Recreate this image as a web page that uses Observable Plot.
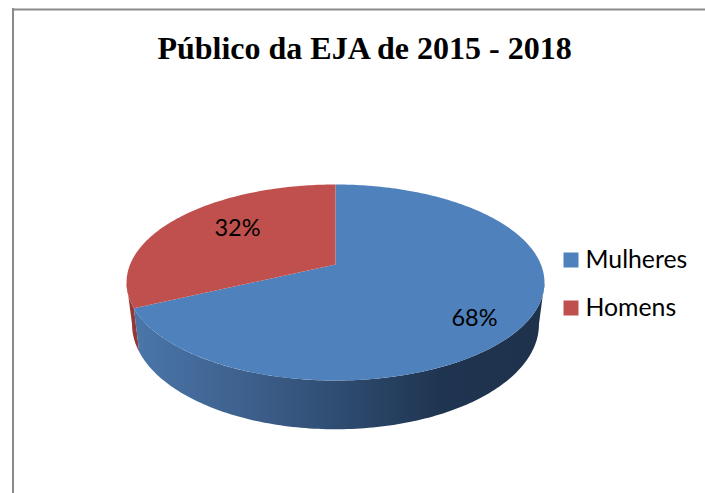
<!DOCTYPE html>
<html><head><meta charset="utf-8">
<script src="https://cdn.jsdelivr.net/npm/d3@7"></script>
<script src="https://cdn.jsdelivr.net/npm/@observablehq/plot@0.6"></script>
<style>html,body{margin:0;padding:0;background:#fff}svg{display:block}</style>
</head><body><div id="chart"></div>
<script>
const titleText = "Público da EJA de 2015 - 2018";
const categories = ["Mulheres", "Homens"];
const shares = [68, 32];
const topColors = ["#4f81bd", "#c0504d"];

const W = 705, H = 493;
// perspective projection of the pie disc onto the page
const cx = 335, c = 0.1837, A = 205.4, a = -46.2, b = 264;
const Ab = 200, ab = -45.5, bb = 304.5;
const project = (t, r, Aw, aw, bw) => {
  const u = r * Math.sin(t), v = r * Math.cos(t), d = 1 + c * v;
  return [cx + Aw * u / d, (aw * v + bw) / d];
};
const pie = d3.pie().sort(null).value(d => d)(shares);
const step = Math.PI / 180;
// the wall is visible only between the two points where the rim is widest
const frontStart = Math.acos(-c), frontEnd = 2 * Math.PI - frontStart;

const topFaces = [], sideFaces = [];
pie.forEach((s, i) => {
  const name = categories[i];
  const n = Math.ceil((s.endAngle - s.startAngle) / step);
  const [x0, y0] = project(0, 0, A, a, b);
  topFaces.push({name, x: x0, y: y0});
  for (let k = 0; k <= n; k++) {
    const [x, y] = project(s.startAngle + (s.endAngle - s.startAngle) * k / n, 1, A, a, b);
    topFaces.push({name, x, y});
  }
  const t0 = Math.max(s.startAngle, frontStart), t1 = Math.min(s.endAngle, frontEnd);
  if (t1 > t0) {
    const m = Math.ceil((t1 - t0) / step);
    for (let k = 0; k <= m; k++) {
      const [x, y] = project(t0 + (t1 - t0) * k / m, 1, A, a, b);
      sideFaces.push({name, x, y});
    }
    for (let k = m; k >= 0; k--) {
      const [x, y] = project(t0 + (t1 - t0) * k / m, 1, Ab, ab, bb);
      sideFaces.push({name, x, y});
    }
  }
});
const sideBlue = sideFaces.filter(d => d.name === "Mulheres");
const sideRed = sideFaces.filter(d => d.name === "Homens");

const gradStops = [[135, "#4a76aa"], [250, "#3d5f8b"], [335, "#2f4d72"], [440, "#1f3450"], [540, "#1e324c"]];
const defs = () => {
  const d = d3.create("svg:defs");
  const g = d.append("linearGradient").attr("id", "sideBlue")
    .attr("gradientUnits", "userSpaceOnUse")
    .attr("x1", gradStops[0][0]).attr("x2", gradStops[gradStops.length - 1][0])
    .attr("y1", 0).attr("y2", 0);
  gradStops.forEach(([x, col]) => g.append("stop")
    .attr("offset", (x - gradStops[0][0]) / (gradStops[gradStops.length - 1][0] - gradStops[0][0]))
    .attr("stop-color", col));
  return d.node();
};

const legendRows = categories.map((name, i) => ({name, x: 570.5, y: 259.5 + i * 48}));
const labelRows = shares.map((v, i) => ({text: v + "%", x: [474, 237][i], y: [318, 228][i]}));
const font = "Lato, 'Open Sans', sans-serif";

const chart = Plot.plot({
  width: W, height: H, margin: 0,
  x: {domain: [0, W], range: [0, W], axis: null},
  y: {domain: [0, H], range: [0, H], axis: null},
  color: {domain: categories, range: topColors},
  style: {background: "#fff"},
  marks: [
    defs,
    Plot.ruleX([12.5], {y1: 8, y2: H, stroke: "#8a8a8a", strokeWidth: 2}),
    Plot.ruleY([9], {x1: 12, x2: W, stroke: "#8a8a8a", strokeWidth: 2}),
    Plot.line(sideRed, {x: "x", y: "y", fill: "#953735", stroke: null}),
    Plot.line(sideBlue, {x: "x", y: "y", fill: "url(#sideBlue)", stroke: null}),
    Plot.line(topFaces, {x: "x", y: "y", z: "name", fill: "name", stroke: null}),
    Plot.text(labelRows, {x: "x", y: "y", text: "text", fontSize: 23.5, fontFamily: font, fill: "#000"}),
    Plot.dot(legendRows, {x: "x", y: "y", symbol: "square", r: 8.46, fill: "name", stroke: null}),
    Plot.text(legendRows, {x: () => 585, y: "y", text: "name", textAnchor: "start", fontSize: 24.8, fontFamily: font, fill: "#000"}),
    Plot.text([titleText], {x: () => 364, y: () => 48, text: d => d, fontSize: 32, fontWeight: "bold", fontFamily: "'Liberation Serif', serif", fill: "#000"})
  ]
});
document.getElementById("chart").appendChild(chart);
</script></body></html>
